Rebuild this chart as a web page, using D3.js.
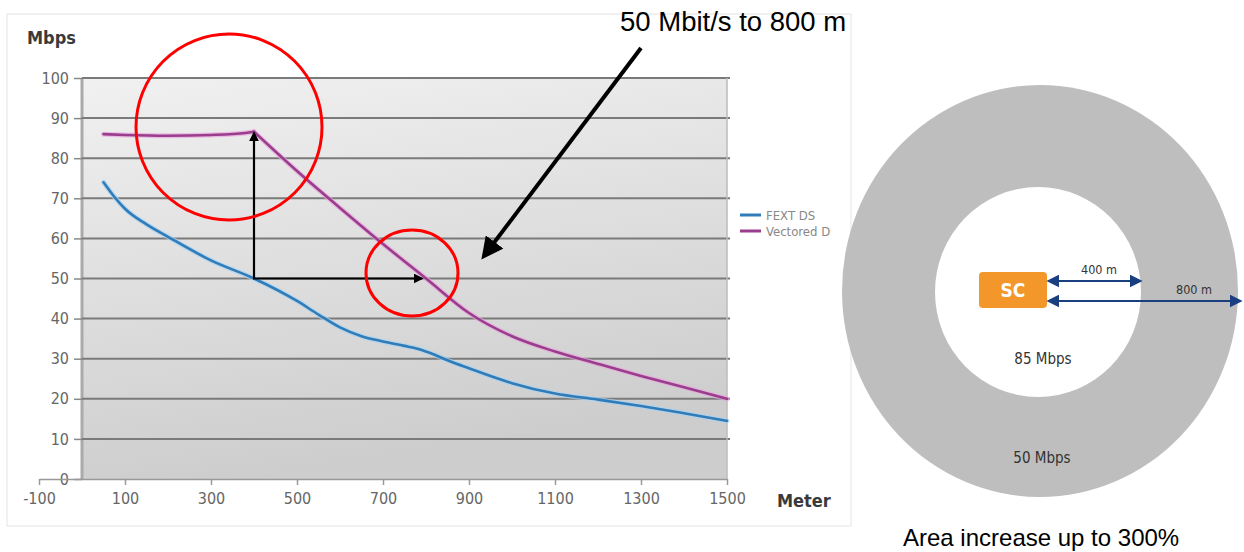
<!DOCTYPE html>
<html><head><meta charset="utf-8">
<script src="https://cdn.jsdelivr.net/npm/d3@7"></script>
<style>html,body{margin:0;padding:0;background:#fff;}svg{display:block;}</style>
</head><body>
<svg id="c" width="1244" height="552"></svg>
<script>
// ---- data ----
const xTicks = [-100, 100, 300, 500, 700, 900, 1100, 1300, 1500];
const yTicks = [0, 10, 20, 30, 40, 50, 60, 70, 80, 90, 100];
const fextX = [50, 75, 100, 150, 200, 300, 400, 500, 550, 600, 650, 700, 750, 780, 820, 850, 900, 1000, 1100, 1200, 1300, 1400, 1500];
const fextY = [74, 70.4, 67.4, 63.5, 60.4, 54.5, 50, 44.4, 41, 37.8, 35.6, 34.3, 33.2, 32.5, 31, 29.6, 27.6, 23.9, 21.3, 19.8, 18.2, 16.4, 14.5];
const vecFlatX = [50, 100, 200, 300, 380, 400];
const vecFlatY = [86, 85.8, 85.6, 85.8, 86.3, 86.6];
const vecDropX = [400, 500, 600, 700, 800, 900, 1000, 1100, 1200, 1300, 1400, 1500];
const vecDropY = [86.6, 76.8, 67.6, 58.6, 50, 41.4, 35.6, 31.8, 28.7, 25.7, 22.9, 20];
const seriesNames = ["FEXT DS", "Vectored DS"];
const seriesColors = ["#2f7cb8", "#993d8c"];

const svg = d3.select("#c");
const defs = svg.append("defs");
const x = d3.scaleLinear().domain([-100, 1500]).range([39, 727]);
const y = d3.scaleLinear().domain([0, 100]).range([479, 78]);
const cond = "'DejaVu Sans Condensed','DejaVu Sans',sans-serif";

// chart image frame
svg.append("rect").attr("x", 7).attr("y", 14).attr("width", 844).attr("height", 512)
  .attr("fill", "#fff").attr("stroke", "#e4e4e4").attr("stroke-width", 1);

// plot background gradient
const g1 = defs.append("linearGradient").attr("id", "bg").attr("x1", "0").attr("y1", "0").attr("x2", "0.25").attr("y2", "1");
g1.append("stop").attr("offset", "0").attr("stop-color", "#f1f1f1");
g1.append("stop").attr("offset", "1").attr("stop-color", "#cdcdcd");
svg.append("rect").attr("x", x(0)).attr("y", y(100)).attr("width", x(1500) - x(0)).attr("height", y(0) - y(100)).attr("fill", "url(#bg)");
svg.append("line").attr("x1", x(0)).attr("x2", x(0)).attr("y1", y(100)).attr("y2", y(0)).attr("stroke", "#aaa").attr("stroke-width", 3);

// gridlines + y ticks
const yg = svg.append("g").attr("transform", `translate(${x(0)},0)`)
  .call(d3.axisLeft(y).tickValues(yTicks).tickFormat(d => String(d)).tickSize(8).tickPadding(4));
yg.select(".domain").remove();
yg.selectAll(".tick line").attr("stroke", "#888").attr("stroke-width", 1.5);
yg.selectAll(".tick text").attr("font-family", cond).attr("font-size", 16).attr("fill", "#666").attr("dx", "-1");
svg.append("g").selectAll("line").data(yTicks.filter(d => d > 0)).join("line")
  .attr("x1", x(0)).attr("x2", x(1500) + 3).attr("y1", d => y(d)).attr("y2", d => y(d))
  .attr("stroke", "#7a7a7a").attr("stroke-width", 2);

// x axis
const xg = svg.append("g").attr("transform", `translate(0,${y(0)})`)
  .call(d3.axisBottom(x).tickValues(xTicks).tickFormat(d => String(d)).tickSize(6).tickPadding(8).tickSizeOuter(0));
xg.select(".domain").attr("stroke", "#999").attr("stroke-width", 1.5);
xg.selectAll(".tick line").attr("stroke", "#999").attr("stroke-width", 1.5);
xg.selectAll(".tick text").attr("font-family", cond).attr("font-size", 16).attr("fill", "#666");
svg.append("line").attr("x1", x(1500)).attr("x2", x(1500)).attr("y1", y(100)).attr("y2", y(0)).attr("stroke", "#bbb").attr("stroke-width", 1.5);

// axis titles
svg.append("text").attr("x", 27).attr("y", 44).text("Mbps")
  .attr("font-family", cond).attr("font-weight", "bold").attr("font-size", 18).attr("fill", "#3a3a3a");
svg.append("text").attr("x", 777).attr("y", 507).text("Meter")
  .attr("font-family", cond).attr("font-weight", "bold").attr("font-size", 18).attr("fill", "#3a3a3a");

// series
const line = d3.line().x(d => x(d[0])).y(d => y(d[1])).curve(d3.curveMonotoneX);
const paths = [
  {pts: d3.zip(fextX, fextY), i: 0},
  {pts: d3.zip(vecFlatX, vecFlatY), i: 1},
  {pts: d3.zip(vecDropX, vecDropY), i: 1}
];
const halo = ["#a9d3f2", "#eaa6de"];
paths.forEach(p => {
  svg.append("path").datum(p.pts).attr("d", line).attr("fill", "none").attr("stroke", halo[p.i]).attr("stroke-width", 5).attr("opacity", 0.7).attr("stroke-linecap", "round");
});
paths.forEach(p => {
  svg.append("path").datum(p.pts).attr("d", line).attr("fill", "none").attr("stroke", seriesColors[p.i]).attr("stroke-width", 2.6).attr("stroke-linecap", "round");
});

// legend
defs.append("clipPath").attr("id", "legclip").append("rect").attr("x", 730).attr("y", 190).attr("width", 101).attr("height", 60);
const lg = svg.append("g").attr("clip-path", "url(#legclip)");
seriesNames.forEach((n, i) => {
  const yy = 215 + i * 16;
  lg.append("line").attr("x1", 740).attr("x2", 761).attr("y1", yy).attr("y2", yy).attr("stroke", seriesColors[i]).attr("stroke-width", 3);
  lg.append("text").attr("x", 766).attr("y", yy + 4.5).text(n).attr("font-family", cond).attr("font-size", 13).attr("fill", "#888");
});

// annotations: arrows
const mk = (id, color, size) => defs.append("marker").attr("id", id).attr("viewBox", "0 0 10 10").attr("refX", 8).attr("refY", 5)
  .attr("markerWidth", size).attr("markerHeight", size).attr("markerUnits", "userSpaceOnUse").attr("orient", "auto-start-reverse")
  .append("path").attr("d", "M0,0 L10,5 L0,10 z").attr("fill", color);
mk("ab", "#000", 10);
mk("ab2", "#000", 22);
mk("bl", "#1a3f80", 13);
svg.append("line").attr("x1", x(400)).attr("y1", y(50)).attr("x2", x(400)).attr("y2", y(86.2))
  .attr("stroke", "#000").attr("stroke-width", 2.2).attr("marker-end", "url(#ab)");
svg.append("line").attr("x1", x(400) - 1).attr("y1", y(50)).attr("x2", x(790)).attr("y2", y(50))
  .attr("stroke", "#000").attr("stroke-width", 2.2).attr("marker-end", "url(#ab)");
svg.append("line").attr("x1", 641).attr("y1", 48).attr("x2", 484).attr("y2", 256)
  .attr("stroke", "#000").attr("stroke-width", 4).attr("marker-end", "url(#ab2)");

// red ellipses
svg.append("ellipse").attr("cx", 229).attr("cy", 127).attr("rx", 93).attr("ry", 93)
  .attr("fill", "none").attr("stroke", "#ff0000").attr("stroke-width", 3);
svg.append("ellipse").attr("cx", 412).attr("cy", 273).attr("rx", 46).attr("ry", 43)
  .attr("fill", "none").attr("stroke", "#ff0000").attr("stroke-width", 3);

// title annotation
defs.append("clipPath").attr("id", "tclip").append("rect").attr("x", 600).attr("y", 0).attr("width", 252).attr("height", 60);
svg.append("text").attr("clip-path", "url(#tclip)").attr("x", 620).attr("y", 31).text("50 Mbit/s to 800 m")
  .attr("font-family", "'Liberation Sans',Arial,sans-serif").attr("font-size", 27.5).attr("fill", "#000");

// right diagram
const d = svg.append("g");
d.append("ellipse").attr("cx", 1040).attr("cy", 291).attr("rx", 198).attr("ry", 206).attr("fill", "#bebebe");
d.append("ellipse").attr("cx", 1038).attr("cy", 292).attr("rx", 103).attr("ry", 105).attr("fill", "#fff");
d.append("rect").attr("x", 979).attr("y", 272).attr("width", 68).attr("height", 36).attr("rx", 4).attr("fill", "#f4972a");
d.append("text").attr("x", 1013).attr("y", 297).attr("text-anchor", "middle").text("SC")
  .attr("font-family", cond).attr("font-weight", "bold").attr("font-size", 19).attr("fill", "#fff");
d.append("line").attr("x1", 1049).attr("x2", 1140).attr("y1", 281).attr("y2", 281).attr("stroke", "#1a3f80").attr("stroke-width", 2)
  .attr("marker-start", "url(#bl)").attr("marker-end", "url(#bl)");
d.append("line").attr("x1", 1049).attr("x2", 1240).attr("y1", 301).attr("y2", 301).attr("stroke", "#1a3f80").attr("stroke-width", 2)
  .attr("marker-start", "url(#bl)").attr("marker-end", "url(#bl)");
d.append("text").attr("x", 1099).attr("y", 274).attr("text-anchor", "middle").text("400 m")
  .attr("font-family", cond).attr("font-size", 12.5).attr("fill", "#333");
d.append("text").attr("x", 1194).attr("y", 294).attr("text-anchor", "middle").text("800 m")
  .attr("font-family", cond).attr("font-size", 12.5).attr("fill", "#333");
d.append("text").attr("x", 1043).attr("y", 364).attr("text-anchor", "middle").text("85 Mbps")
  .attr("font-family", cond).attr("font-size", 15).attr("fill", "#333");
d.append("text").attr("x", 1042).attr("y", 463).attr("text-anchor", "middle").text("50 Mbps")
  .attr("font-family", cond).attr("font-size", 15).attr("fill", "#333");
svg.append("text").attr("x", 903).attr("y", 546).text("Area increase up to 300%")
  .attr("font-family", "'Liberation Sans',Arial,sans-serif").attr("font-size", 24).attr("fill", "#000");
</script>
</body></html>
